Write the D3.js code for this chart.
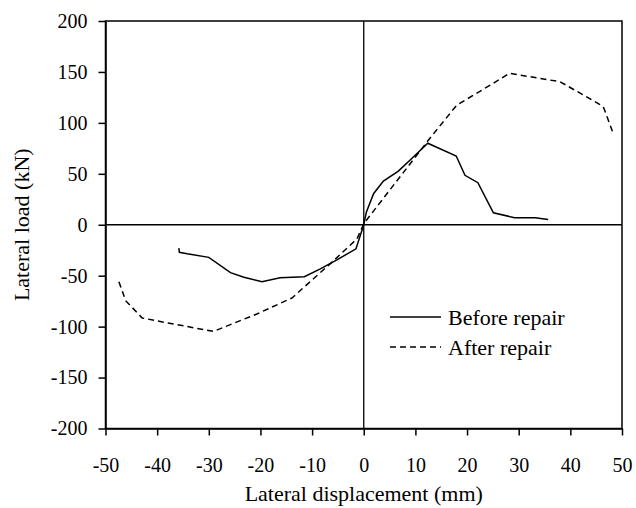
<!DOCTYPE html>
<html><head><meta charset="utf-8">
<script src="https://cdn.jsdelivr.net/npm/d3@7"></script>
<style>body{margin:0;background:#fff}svg{display:block}text{font-family:"Liberation Serif","Times New Roman",serif;fill:#000}</style>
</head><body>
<script>
const xTicks = [-50,-40,-30,-20,-10,0,10,20,30,40,50];
const yTicks = [-200,-150,-100,-50,0,50,100,150,200];
const seriesNames = ["Before repair","After repair"];
const beforeX = [-35.8,-35.7,-34.2,-30,-25.8,-23.2,-19.7,-16.2,-11.5,-8.4,-5.2,-1.5,0,0.5,1.9,3.8,6.7,9.6,12.4,17.9,19.6,22.1,25.1,29.2,33.2,35.7];
const beforeY = [-23,-27,-28.5,-32,-47,-51.5,-56,-52,-51,-43.3,-34.5,-23.6,0,12.4,30.5,42.8,52.7,66.5,80,67.5,48.5,41.3,11.8,6.9,6.9,5.2];
const afterX = [-47.4,-46.1,-42.9,-39.4,-29.1,-20.7,-13.9,-5.8,-1.3,0,12.5,18,23,28.2,38,45.4,46.4,48.3];
const afterY = [-56,-74.5,-91.5,-95,-104.7,-87.6,-71.9,-35.1,-13.8,1,83,117.4,132.5,148.6,140.4,119,115.7,89.6];

const W=636,H=508;
const svg=d3.select("body").append("svg").attr("width",W).attr("height",H);
const x=d3.scaleLinear().domain([-50,50]).range([105.5,622]);
const y=d3.scaleLinear().domain([-200,200]).range([428.5,21]);

svg.append("rect").attr("x",x(-50)).attr("y",y(200)).attr("width",x(50)-x(-50)).attr("height",y(-200)-y(200))
  .attr("fill","none").attr("stroke","#000").attr("stroke-width",1.5);
svg.append("line").attr("x1",x(0)).attr("x2",x(0)).attr("y1",y(200)).attr("y2",y(-200)).attr("stroke","#000").attr("stroke-width",1.3);
svg.append("line").attr("x1",x(-50)).attr("x2",x(50)).attr("y1",y(0)).attr("y2",y(0)).attr("stroke","#000").attr("stroke-width",1.3);

const fmt=d=>String(d);
const xa=svg.append("g").attr("transform",`translate(0,${y(-200)})`)
  .call(d3.axisBottom(x).tickValues(xTicks).tickSize(7).tickSizeOuter(0).tickFormat(fmt));
const ya=svg.append("g").attr("transform",`translate(${x(-50)},0)`)
  .call(d3.axisLeft(y).tickValues(yTicks).tickSize(7).tickSizeOuter(0).tickFormat(fmt));
[xa,ya].forEach(g=>{
  g.select(".domain").attr("stroke","#000").attr("stroke-width",1.5);
  g.selectAll(".tick line").attr("stroke","#000").attr("stroke-width",1.5);
  g.selectAll(".tick text").attr("font-size",20).attr("font-family","Liberation Serif");
});
xa.selectAll(".tick text").attr("dy",0).attr("y",43);
ya.selectAll(".tick text").attr("x",-18);

const line=d3.line().x(d=>x(d[0])).y(d=>y(d[1]));
const before=beforeX.map((v,i)=>[v,beforeY[i]]);
const after=afterX.map((v,i)=>[v,afterY[i]]);
svg.append("path").datum(after).attr("d",line).attr("fill","none").attr("stroke","#000").attr("stroke-width",1.5).attr("stroke-dasharray","6,4");
svg.append("path").datum(before).attr("d",line).attr("fill","none").attr("stroke","#000").attr("stroke-width",1.5);

const leg=[{n:seriesNames[0],dash:null,yy:317},{n:seriesNames[1],dash:"6,4",yy:347}];
leg.forEach(l=>{
  svg.append("line").attr("x1",390).attr("x2",441).attr("y1",l.yy).attr("y2",l.yy).attr("stroke","#000").attr("stroke-width",1.5).attr("stroke-dasharray",l.dash);
  svg.append("text").attr("x",448).attr("y",l.yy+8).attr("font-size",22).text(l.n);
});

svg.append("text").attr("x",(x(-50)+x(50))/2).attr("y",501).attr("text-anchor","middle").attr("font-size",22).text("Lateral displacement (mm)");
svg.append("text").attr("transform",`translate(29,${y(0)}) rotate(-90)`).attr("text-anchor","middle").attr("font-size",22).text("Lateral load (kN)");
</script>
</body></html>
